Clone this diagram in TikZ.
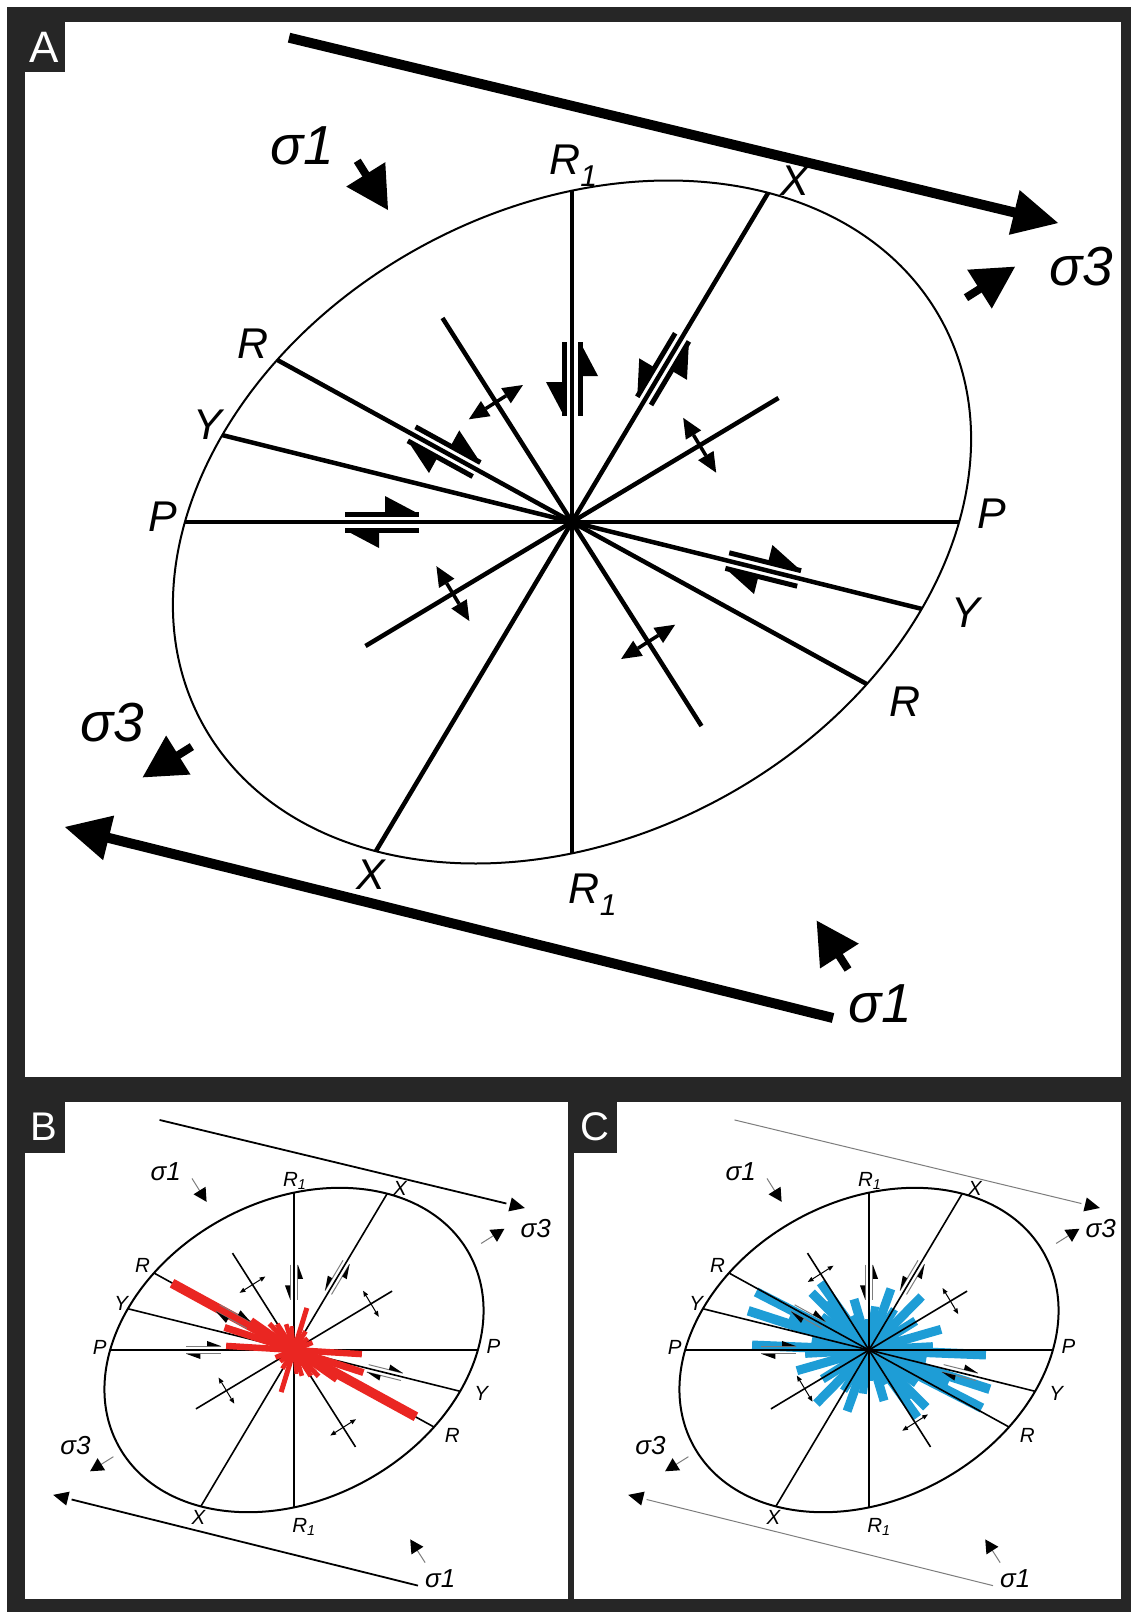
\documentclass[tikz,border=0pt]{standalone}
\usepackage{fontspec}
\setmainfont{Liberation Sans}
\definecolor{framegray}{RGB}{38,38,38}
\definecolor{rosered}{RGB}{234,38,34}
\definecolor{roseblue}{RGB}{30,157,214}
\definecolor{stemgray}{RGB}{125,125,125}

% panel parameters (redefined locally per panel)
\newcommand\pLwE{2}\newcommand\pLwR{4.5}\newcommand\pLwS{10}\newcommand\pLwH{5}
\newcommand\pLwD{3.5}\newcommand\pLwSa{8}
\newcommand\pColS{black}\newcommand\pColH{black}\newcommand\pColSa{black}\newcommand\pColD{black}
\newcommand\pFsL{43}\newcommand\pFsS{55}
\newcommand\pHh{34}\newcommand\pHw{18}\newcommand\pHoff{8}
\newcommand\pDh{20}\newcommand\pDw{9}
\newcommand\pSah{42}\newcommand\pSaw{23}
\newcommand\pShl{45}\newcommand\pShw{23}
\newcommand\pSthreex{509}

\tikzset{
  ellline/.style={line width=\pLwE pt},
  radline/.style={line width=\pLwR pt},
  sline/.style={line width=\pLwS pt, draw=\pColS},
  hstem/.style={line width=\pLwH pt, draw=\pColH},
  dstem/.style={line width=\pLwD pt, draw=\pColD},
  sastem/.style={line width=\pLwSa pt, draw=\pColSa},
  lbl/.style={font=\fontsize{\pFsL}{\pFsL}\selectfont\itshape, inner sep=0pt},
  slbl/.style={font=\fontsize{\pFsS}{\pFsS}\selectfont\itshape, inner sep=0pt},
  plabel/.style={font=\fontsize{40}{40}\selectfont, text=white, inner sep=0pt},
}

% half-arrow pair: x, y, page angle, +1 dextral / -1 sinistral
\newcommand\hpair[4]{%
  \begin{scope}[shift={(#1,#2)}, rotate=#3, xscale=#4]
    \draw[hstem] (-37,-\pHoff) -- (37,-\pHoff);
    \fill (37,-\pHoff) -- (37-\pHh,-\pHoff) -- (37-\pHh,-\pHoff-\pHw) -- cycle;
    \draw[hstem] (-37,\pHoff) -- (37,\pHoff);
    \fill (-37,\pHoff) -- (-37+\pHh,\pHoff) -- (-37+\pHh,\pHoff+\pHw) -- cycle;
  \end{scope}}
% double arrow: x, y, page angle
\newcommand\darr[3]{%
  \begin{scope}[shift={(#1,#2)}, rotate=#3]
    \draw[dstem] (-32+\pDh,0) -- (32-\pDh,0);
    \fill (32,0) -- (32-\pDh,-\pDw) -- (32-\pDh,\pDw) -- cycle;
    \fill (-32,0) -- (-32+\pDh,-\pDw) -- (-32+\pDh,\pDw) -- cycle;
  \end{scope}}
% small stress arrow: tip x, tip y, page angle
\newcommand\sarr[3]{%
  \begin{scope}[shift={(#1,#2)}, rotate=#3]
    \draw[sastem] (-58,0) -- (-\pSah+2,0);
    \fill (0,0) -- (-\pSah,-\pSaw) -- (-\pSah,\pSaw) -- cycle;
  \end{scope}}
% rose petal (bar, both directions): page angle, length, half width, colour
\newcommand\petal[4]{%
  \fill[#4, rotate=#1] (-#2,-#3) rectangle (#2,#3);}

\newcommand\panelLines{%
  \draw[ellline, rotate=28.6] (0,0) ellipse [x radius=421, y radius=314];
  \coordinate (ctr) at (0,0);
  \coordinate (P1) at (-387,0); \coordinate (P2) at (387,0);
  \coordinate (Q1) at (0,-331); \coordinate (Q2) at (0,331);
  \coordinate (X1) at (196.2,-329.3); \coordinate (X2) at (-196.2,329.3);
  \coordinate (R1) at (-294.8,-162.1); \coordinate (R2) at (294.8,162.1);
  \coordinate (Y1) at (-349.7,-86.9); \coordinate (Y2) at (349.7,86.9);
  \coordinate (S1) at (-129.5,-204); \coordinate (S2) at (129.5,204);
  \coordinate (T1) at (206.5,-124); \coordinate (T2) at (-206.5,124);
  \draw[radline] (P1) -- (P2);
  \draw[radline] (Q1) -- (Q2);
  \draw[radline] (X1) -- (X2);
  \draw[radline] (R1) -- (R2);
  \draw[radline] (Y1) -- (Y2);
  \draw[radline] (S1) -- (S2);
  \draw[radline] (T1) -- (T2);
  % sigma shear lines
  \coordinate (topS) at (-283,-484.3); \coordinate (topE) at (447.1,-308.4);
  \draw[sline] (topS) -- (topE);
  \begin{scope}[shift={(486,-299)}, rotate=-13.55]
    \fill[black] (0,0) -- (-\pShl,-\pShw) -- (-\pShl,\pShw) -- cycle;
  \end{scope}
  \coordinate (botS) at (261,496); \coordinate (botE) at (-468.2,314.7);
  \draw[sline] (botS) -- (botE);
  \begin{scope}[shift={(-507,305)}, rotate=166.04]
    \fill[black] (0,0) -- (-\pShl,-\pShw) -- (-\pShl,\pShw) -- cycle;
  \end{scope}}

\newcommand\panelMarks[4]{%
  \hpair{-190}{0}{0}{1}
  \hpair{-127.9}{-70.3}{-28.8}{1}
  \hpair{191.2}{47.5}{-13.96}{1}
  \hpair{0}{-143}{90}{-1}
  \hpair{91.1}{-152.9}{59.2}{-1}
  \darr{-0.536*#1}{-0.844*#1}{32.4}
  \darr{0.536*#2}{0.844*#2}{32.4}
  \darr{0.857*#3}{-0.515*#3}{-59}
  \darr{-0.857*#4}{0.515*#4}{-59}
  \sarr{-184}{-312}{-58}
  \sarr{443}{-255.3}{32.3}
  \sarr{-429.3}{255.3}{212}
  \sarr{244.7}{398.7}{122.7}
  \node[lbl] (lR1t) at (1.5,-356) {R\textsubscript{1}};
  \node[lbl] (lXt) at (223,-341) {X};
  \node[lbl] (lRl) at (-319,-178) {R};
  \node[lbl] (lYl) at (-364,-97) {Y};
  \node[lbl] (lPl) at (-409,-5) {P};
  \node[lbl] (lPr) at (420,-8) {P};
  \node[lbl] (lYr) at (394,91) {Y};
  \node[lbl] (lRr) at (333,180) {R};
  \node[lbl] (lXb) at (-201,353) {X};
  \node[lbl] (lR1b) at (21,373) {R\textsubscript{1}};
  \node[slbl] (s1a) at (-270,-376) {σ1};
  \node[slbl] (s3a) at (\pSthreex,-255) {σ3};
  \node[slbl] (s3b) at (-460,201) {σ3};
  \node[slbl] (s1b) at (308,482) {σ1};}

\newcommand\smallparams{%
  \renewcommand\pLwE{2}\renewcommand\pLwR{1.6}\renewcommand\pLwH{1}
  \renewcommand\pLwD{1}\renewcommand\pLwSa{1}
  \renewcommand\pColH{stemgray}\renewcommand\pColSa{stemgray}
  \renewcommand\pFsL{20.5}\renewcommand\pFsS{26}
  \renewcommand\pHh{30}\renewcommand\pHw{11}\renewcommand\pHoff{8}
  \renewcommand\pDh{12}\renewcommand\pDw{5}
  \renewcommand\pSah{28}\renewcommand\pSaw{15}
  \renewcommand\pShl{32}\renewcommand\pShw{15}}

\begin{document}
\begin{tikzpicture}[x=1pt,y=-1pt]
\useasboundingbox (0,0) rectangle (1131,1612);
\fill[white] (0,0) rectangle (1131,1612);
\fill[framegray] (7,7) rectangle (1131,1612);
\fill[white] (25,22) rectangle (1121,1077);
\fill[white] (25,1102) rectangle (568,1599);
\fill[white] (574,1102) rectangle (1121,1599);
\fill[framegray] (25,22) rectangle (65,72);
\fill[framegray] (25,1102) rectangle (65,1153);
\fill[framegray] (574,1102) rectangle (617,1153);
\node[plabel, font=\fontsize{44}{44}\selectfont] (labA) at (44,47) {A};
\node[plabel] (labB) at (44,1127) {B};
\node[plabel] (labC) at (595,1127) {C};

% ---------------- Panel A
\begin{scope}[shift={(572,522)}, name prefix=A-]
  \panelLines
  \panelMarks{142}{142}{149}{139}
\end{scope}

% ---------------- Panel B
\begin{scope}[shift={(294,1350)}, scale=0.475, name prefix=B-]
  \smallparams
  \renewcommand\pLwS{1.8}
  \panelLines
\end{scope}
\begin{scope}[shift={(294,1350)}, name prefix=Br-]
  \petal{151.3}{139}{4.8}{rosered}
  \petal{162}{73}{3.5}{rosered}
  \petal{176.5}{68}{3.2}{rosered}
  \petal{145}{52}{3}{rosered}
  \petal{133}{36}{2.5}{rosered}
  \petal{123}{31}{2.5}{rosered}
  \petal{107}{27}{2.3}{rosered}
  \petal{96}{24}{2}{rosered}
  \petal{73}{44}{2.5}{rosered}
  \petal{58}{22}{2.3}{rosered}
  \petal{40}{18}{2.3}{rosered}
  \petal{22}{20}{2.5}{rosered}
\end{scope}
\begin{scope}[shift={(294,1350)}, scale=0.475, name prefix=B-]
  \smallparams
  \panelMarks{163}{193}{189}{166}
\end{scope}

% ---------------- Panel C
\begin{scope}[shift={(869,1350)}, name prefix=Cr-]
  \petal{3}{64}{4.5}{roseblue}
  \petal{16}{75}{4.5}{roseblue}
  \petal{32}{55}{4.5}{roseblue}
  \petal{45.5}{75}{4.5}{roseblue}
  \petal{58}{48}{4}{roseblue}
  \petal{70.3}{65}{4.5}{roseblue}
  \petal{82}{44}{4}{roseblue}
  \petal{90}{31}{4}{roseblue}
  \petal{106.5}{53}{4.5}{roseblue}
  \petal{117}{38}{4}{roseblue}
  \petal{125.7}{83}{4.5}{roseblue}
  \petal{130.5}{64}{4.5}{roseblue}
  \petal{135}{81}{4.5}{roseblue}
  \petal{145}{58}{4.5}{roseblue}
  \petal{152.8}{127}{4.8}{roseblue}
  \petal{157.5}{86}{4.8}{roseblue}
  \petal{162}{127}{4.8}{roseblue}
  \petal{170}{58}{4.5}{roseblue}
  \petal{177.7}{117}{4.8}{roseblue}
\end{scope}
\begin{scope}[shift={(869,1350)}, scale=0.475, name prefix=C-]
  \smallparams
  \renewcommand\pLwS{1}\renewcommand\pColS{stemgray}
  \renewcommand\pSthreex{488}
  \panelLines
  \panelMarks{190}{181}{200}{158}
\end{scope}
\end{tikzpicture}
\end{document}
